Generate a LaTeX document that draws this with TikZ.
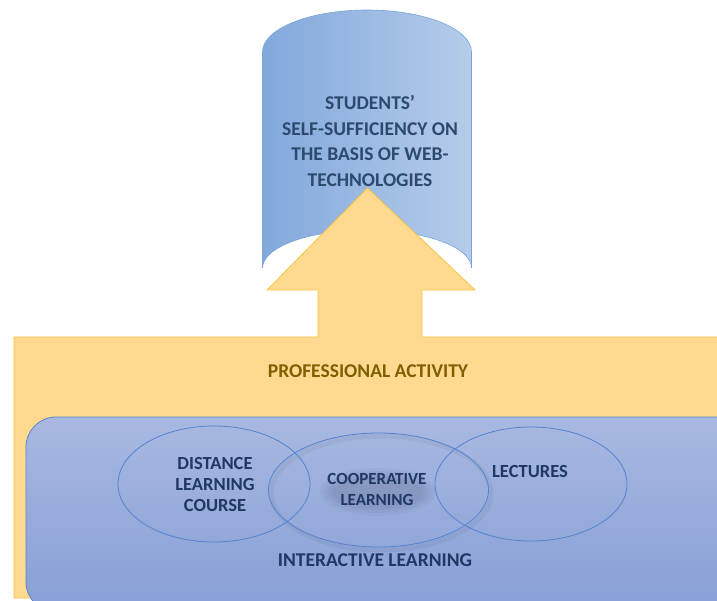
\documentclass[tikz,border=0pt]{standalone}
\usepackage{fontspec}
\setmainfont{Carlito}
\begin{document}
\begin{tikzpicture}[x=1pt,y=-1pt,
  lbl/.style={font=\fontsize{18.5}{21}\selectfont\bfseries, align=center, text=navytext, inner sep=0pt},
  venn/.style={draw=vennline, line width=0.8pt},
]
\definecolor{cylL}{HTML}{82A8DC}
\definecolor{cylR}{HTML}{B5CCEA}
\definecolor{cylB}{HTML}{7AA3DA}
\definecolor{yel}{HTML}{FED98F}
\definecolor{yelB}{HTML}{F6C445}
\definecolor{bluT}{HTML}{A8B8E1}
\definecolor{bluB}{HTML}{879FD6}
\definecolor{bluLine}{HTML}{5A84CE}
\definecolor{vennline}{HTML}{5583D0}
\definecolor{navytext}{HTML}{1F3864}
\definecolor{toptext}{HTML}{2B4A6E}
\definecolor{olive}{HTML}{7F6000}
\useasboundingbox (0,0) rectangle (717,601);
\clip (0,0) rectangle (717,601);
% cylinder
\path[left color=cylL, right color=cylR, draw=cylB, line width=0.6pt]
  (262.5,268) -- (262.5,52)
  arc[start angle=180, end angle=360, x radius=104.5, y radius=42]
  -- (471.5,268)
  arc[start angle=0, end angle=-180, x radius=104.5, y radius=38] -- cycle;
\node[lbl, text=toptext, font=\fontsize{19.5}{25.5}\selectfont\bfseries] (top) at (370,141)
  {STUDENTS'\\SELF-SUFFICIENCY ON\\THE BASIS OF WEB-\\TECHNOLOGIES};
% yellow arrow + band
\path[fill=yel, draw=yelB, line width=0.8pt]
  (14,598) -- (14,337) -- (318,337) -- (318,290) -- (267,290) -- (367.5,188)
  -- (475,290) -- (422,290) -- (422,337) -- (760,337) -- (760,598) -- cycle;
\node[lbl, text=olive, font=\fontsize{19.5}{22}\selectfont\bfseries] (prof) at (368,371) {PROFESSIONAL ACTIVITY};
% blue rounded rectangle
\path[top color=bluT, bottom color=bluB, draw=bluLine, line width=0.8pt, rounded corners=30pt]
  (26,612) -- (26,417) -- (750,417) -- (750,612) -- cycle;
% venn ellipses
\draw[black, opacity=0.045, line width=5pt] (381,493) ellipse [x radius=110, y radius=57];
\draw[venn] (214,484) ellipse [x radius=96, y radius=58];
\draw[venn] (378.5,490) ellipse [x radius=110, y radius=57];
\draw[venn] (531,484) ellipse [x radius=96, y radius=57];
\node[lbl] (dist) at (215,484) {DISTANCE\\LEARNING\\COURSE};
\foreach \rx/\ry in {58/24, 54/21, 50/18, 46/15}
  \fill[black, opacity=0.03] (378,492) ellipse [x radius=\rx, y radius=\ry];
\node[lbl, font=\fontsize{17}{21}\selectfont\bfseries] (coop) at (377,489) {COOPERATIVE\\LEARNING};
\node[lbl] (lect) at (530,472) {LECTURES};
\node[lbl, font=\fontsize{19.5}{22}\selectfont\bfseries] (inter) at (375,560) {INTERACTIVE LEARNING};
\end{tikzpicture}
\end{document}
